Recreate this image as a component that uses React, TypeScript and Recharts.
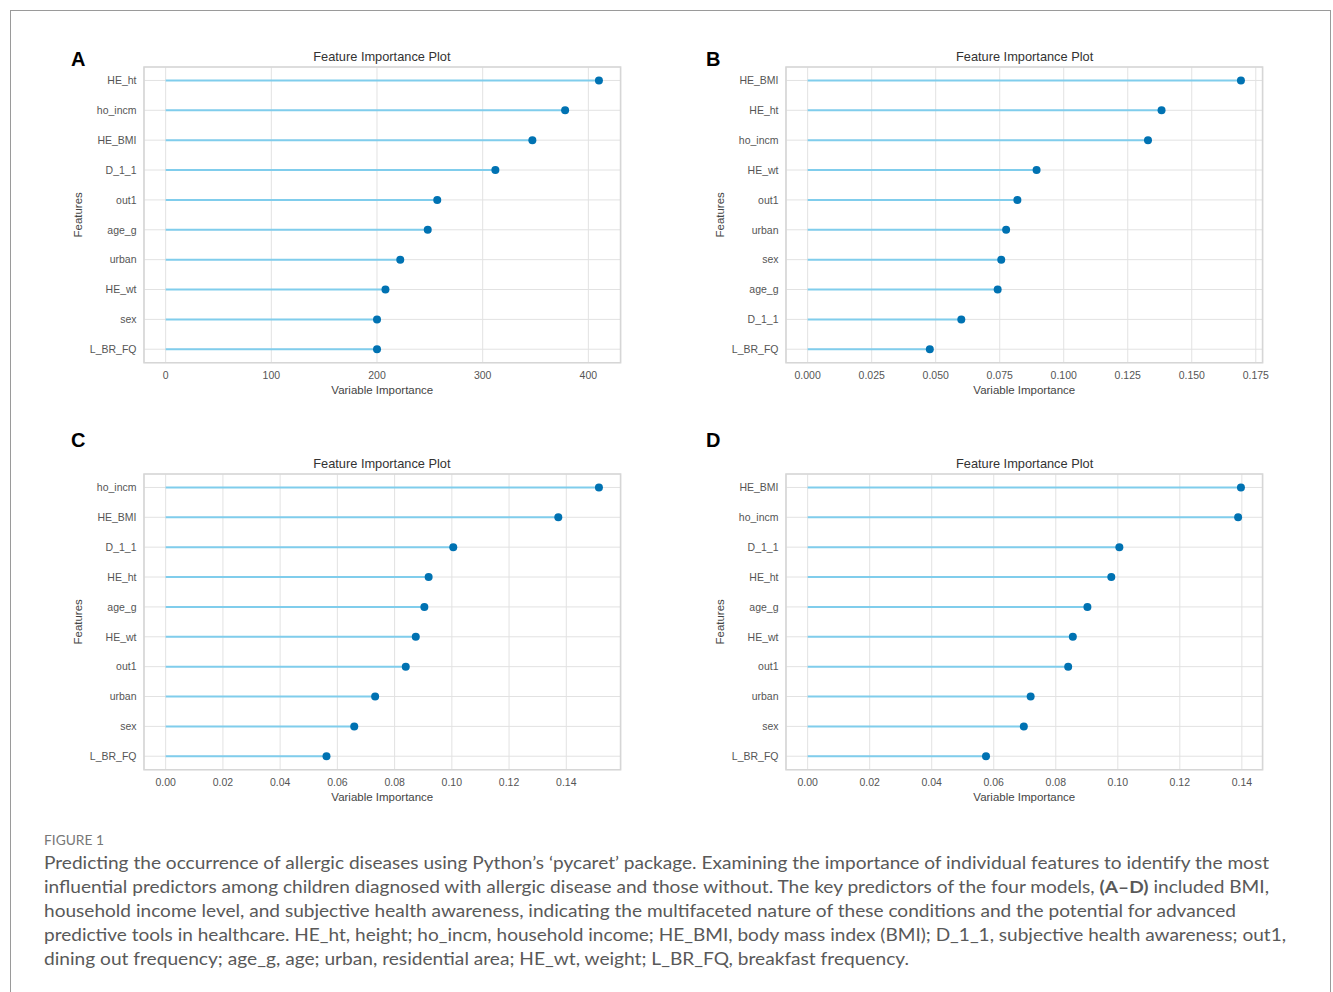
import React from 'react';
import {
  ScatterChart,
  Scatter,
  XAxis,
  YAxis,
  CartesianGrid,
  ReferenceLine,
  ReferenceArea,
} from 'recharts';

// ---------- data ----------
const featuresA = ['HE_ht', 'ho_incm', 'HE_BMI', 'D_1_1', 'out1', 'age_g', 'urban', 'HE_wt', 'sex', 'L_BR_FQ'];
const valuesA = [410, 378, 347, 312, 257, 248, 222, 208, 200, 200];
const ticksA = [0, 100, 200, 300, 400];

const featuresB = ['HE_BMI', 'HE_ht', 'ho_incm', 'HE_wt', 'out1', 'urban', 'sex', 'age_g', 'D_1_1', 'L_BR_FQ'];
const valuesB = [0.1692, 0.1382, 0.1329, 0.0894, 0.0819, 0.0775, 0.0756, 0.0742, 0.06, 0.0477];
const ticksB = [0, 0.025, 0.05, 0.075, 0.1, 0.125, 0.15, 0.175];

const featuresC = ['ho_incm', 'HE_BMI', 'D_1_1', 'HE_ht', 'age_g', 'HE_wt', 'out1', 'urban', 'sex', 'L_BR_FQ'];
const valuesC = [0.1514, 0.1372, 0.1005, 0.0919, 0.0904, 0.0874, 0.0839, 0.0732, 0.0659, 0.0562];
const ticksC = [0, 0.02, 0.04, 0.06, 0.08, 0.1, 0.12, 0.14];

const featuresD = ['HE_BMI', 'ho_incm', 'D_1_1', 'HE_ht', 'age_g', 'HE_wt', 'out1', 'urban', 'sex', 'L_BR_FQ'];
const valuesD = [0.1397, 0.1388, 0.1005, 0.0979, 0.0902, 0.0855, 0.084, 0.0719, 0.0697, 0.0575];
const ticksD = [0, 0.02, 0.04, 0.06, 0.08, 0.1, 0.12, 0.14];

const panelTitle = 'Feature Importance Plot';
const xLabel = 'Variable Importance';
const yLabel = 'Features';

const captionHead = 'FIGURE 1';
const captionLines: { parts: { t: string; b?: boolean }[]; w: number }[] = [
  {
    parts: [
      {
        t: 'Predicting the occurrence of allergic diseases using Python\u2019s \u2018pycaret\u2019 package. Examining the importance of individual features to identify the most',
      },
    ],
    w: 1225,
  },
  {
    parts: [
      { t: 'influential predictors among children diagnosed with allergic disease and those without. The key predictors of the four models, ' },
      { t: '(A\u2013D)', b: true },
      { t: ' included BMI,' },
    ],
    w: 1225,
  },
  {
    parts: [
      {
        t: 'household income level, and subjective health awareness, indicating the multifaceted nature of these conditions and the potential for advanced',
      },
    ],
    w: 1192,
  },
  {
    parts: [
      {
        t: 'predictive tools in healthcare. HE_ht, height; ho_incm, household income; HE_BMI, body mass index (BMI); D_1_1, subjective health awareness; out1,',
      },
    ],
    w: 1242,
  },
  {
    parts: [
      {
        t: 'dining out frequency; age_g, age; urban, residential area; HE_wt, weight; L_BR_FQ, breakfast frequency.',
      },
    ],
    w: 865,
  },
];

// ---------- styling ----------
const FRAME_W = 476.6;
const FRAME_H = 295.7;
const YW = 84;
const MR = 10;
const MT = 5;
const XH = 45;
const FONT = '"Liberation Sans", Arial, sans-serif';
const STEM = '#80cdec';
const DOT = '#0072B2';
const GRID = '#e2e2e2';
const FRAME = '#d6d6d6';

type PanelProps = {
  letter: string;
  features: string[];
  values: number[];
  ticks: number[];
  decimals: number;
  frameLeft: number;
  frameTop: number;
  letterLeft: number;
};

function Panel({ letter, features, values, ticks, decimals, frameLeft, frameTop, letterLeft }: PanelProps) {
  const rows = features.map((f, i) => ({ feature: f, idx: i, value: values[i] }));
  const max = Math.max(...values);
  const xDomain: [number, number] = [-0.05 * max, 1.05 * max];
  const n = features.length;
  const pad = 0.05 * (n - 1);
  const yDomain: [number, number] = [-pad, n - 1 + pad];
  const yTicks = rows.map((r) => r.idx);

  return (
    <>
      <div
        style={{
          position: 'absolute',
          left: letterLeft,
          top: frameTop - (letter === 'A' || letter === 'B' ? 18.5 : 44.5),
          fontFamily: FONT,
          fontWeight: 'bold',
          fontSize: 20,
          lineHeight: '20px',
          color: '#000',
        }}
      >
        {letter}
      </div>
      <div
        style={{
          position: 'absolute',
          left: frameLeft,
          width: FRAME_W,
          top: frameTop - 19,
          fontFamily: FONT,
          fontSize: 12.8,
          lineHeight: '18px',
          textAlign: 'center',
          color: '#333',
        }}
      >
        {panelTitle}
      </div>
      <div style={{ position: 'absolute', left: frameLeft - YW, top: frameTop - MT }}>
        <ScatterChart
          width={YW + FRAME_W + MR}
          height={MT + FRAME_H + XH}
          margin={{ top: MT, right: MR, bottom: 0, left: 0 }}
          style={{ fontFamily: FONT }}
        >
          <CartesianGrid stroke={GRID} strokeWidth={1} />
          <XAxis
            type="number"
            dataKey="value"
            domain={xDomain}
            allowDataOverflow
            ticks={ticks}
            interval={0}
            tickFormatter={(v: number) => v.toFixed(decimals)}
            tickSize={0}
            tickMargin={8.5}
            axisLine={false}
            tickLine={false}
            height={XH}
            tick={{ fontSize: 10.5, fill: '#555' }}
            label={{ value: xLabel, position: 'insideBottom', offset: 14, fontSize: 11.5, fill: '#444' }}
          />
          <YAxis
            type="number"
            dataKey="idx"
            domain={yDomain}
            allowDataOverflow
            reversed
            ticks={yTicks}
            interval={0}
            tickFormatter={(v: number) => features[v] ?? ''}
            tickSize={0}
            tickMargin={7.5}
            axisLine={false}
            tickLine={false}
            width={YW}
            tick={{ fontSize: 10.5, fill: '#555' }}
            label={{
              value: yLabel,
              angle: -90,
              position: 'insideLeft',
              offset: 18.4,
              fontSize: 11.5,
              fill: '#444',
              style: { textAnchor: 'middle' },
            }}
          />
          <ReferenceArea
            x1={xDomain[0]}
            x2={xDomain[1]}
            y1={yDomain[0]}
            y2={yDomain[1]}
            fill="none"
            fillOpacity={0}
            stroke={FRAME}
            strokeWidth={1.6}
            ifOverflow="visible"
          />
          {rows.map((r) => (
            <ReferenceLine
              key={r.feature}
              segment={[
                { x: 0, y: r.idx },
                { x: r.value, y: r.idx },
              ]}
              stroke={STEM}
              strokeWidth={2}
              ifOverflow="visible"
            />
          ))}
          <Scatter
            data={rows}
            isAnimationActive={false}
            shape={(p: any) => <circle cx={p.cx} cy={p.cy} r={4} fill={DOT} />}
          />
        </ScatterChart>
      </div>
    </>
  );
}

export default function App() {
  return (
    <div
      style={{
        position: 'absolute',
        left: 0,
        top: 0,
        width: 1333,
        height: 992,
        background: '#fff',
        overflow: 'hidden',
      }}
    >
      <div
        style={{
          position: 'absolute',
          left: 10,
          top: 10,
          width: 1319,
          height: 1100,
          border: '1px solid #9a9a9a',
        }}
      />
      <Panel letter="A" features={featuresA} values={valuesA} ticks={ticksA} decimals={0} frameLeft={143.6} frameTop={67} letterLeft={71} />
      <Panel letter="B" features={featuresB} values={valuesB} ticks={ticksB} decimals={3} frameLeft={786.3} frameTop={67} letterLeft={706} />
      <Panel letter="C" features={featuresC} values={valuesC} ticks={ticksC} decimals={2} frameLeft={143.6} frameTop={474.3} letterLeft={71} />
      <Panel letter="D" features={featuresD} values={valuesD} ticks={ticksD} decimals={2} frameLeft={786.3} frameTop={474.3} letterLeft={706} />
      <svg width={1333} height={172} style={{ position: 'absolute', left: 0, top: 820 }}>
        <text x={44} y={25.2} fontFamily="Lato, 'Open Sans', sans-serif" fontSize={13} fill="#777" textLength={60} lengthAdjust="spacingAndGlyphs">
          {captionHead}
        </text>
        {captionLines.map((line, i) => (
          <text
            key={i}
            x={44}
            y={48.5 + i * 24}
            fontFamily="Lato, 'Open Sans', sans-serif"
            fontSize={17.8}
            fill="#595959"
            textLength={line.w}
            lengthAdjust="spacingAndGlyphs"
          >
            {line.parts.map((p, j) => (
              <tspan key={j} fontWeight={p.b ? 'bold' : 'normal'}>
                {p.t}
              </tspan>
            ))}
          </text>
        ))}
      </svg>
    </div>
  );
}
